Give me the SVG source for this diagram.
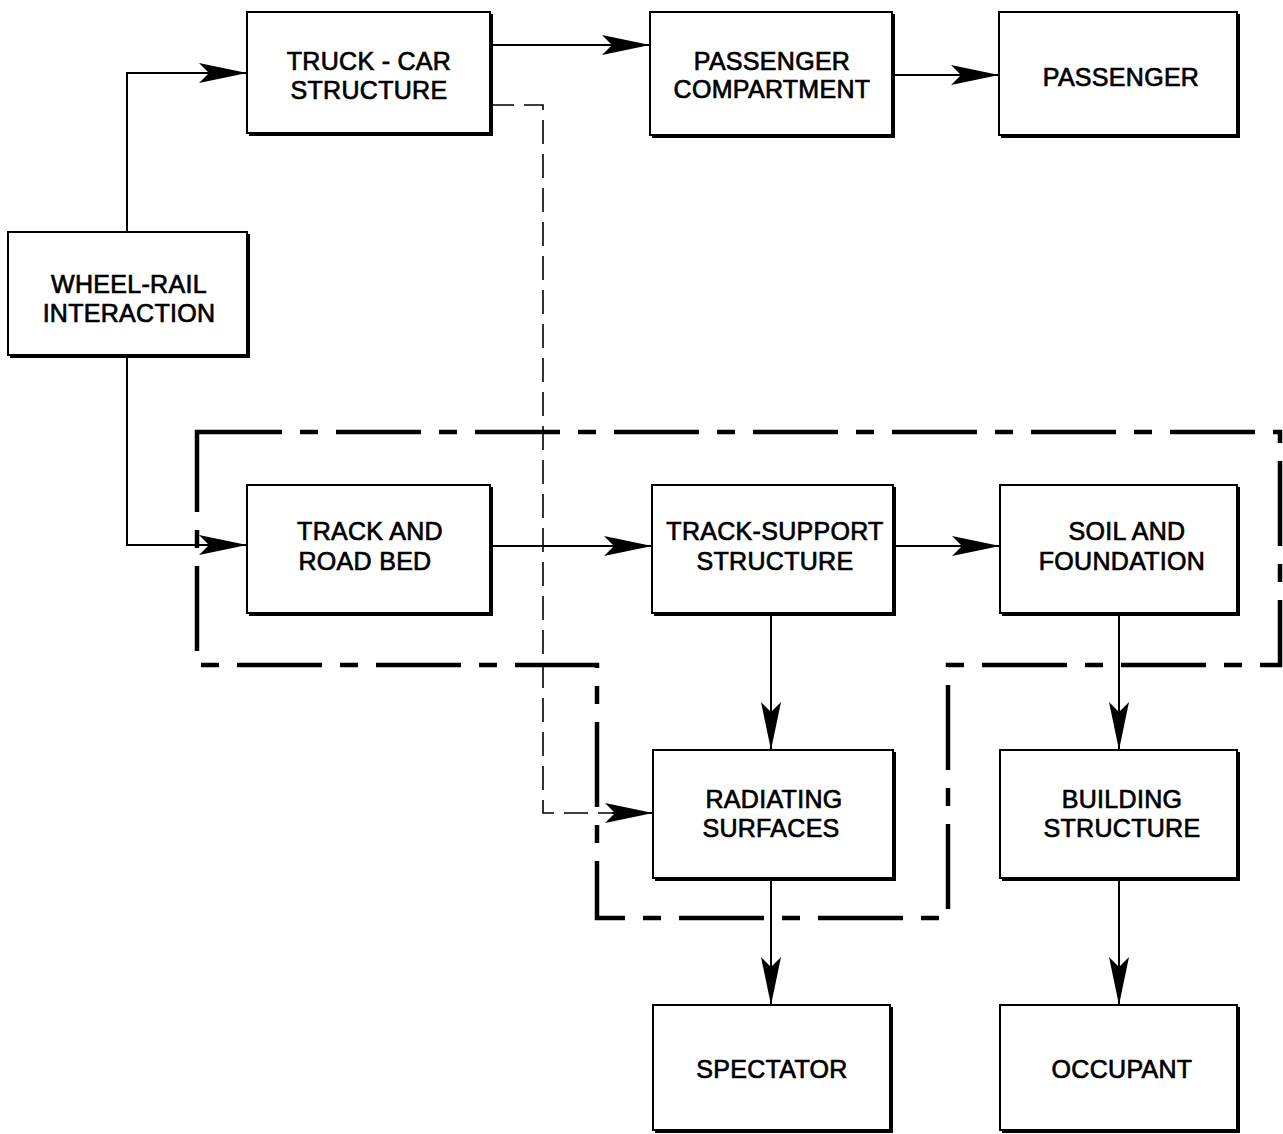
<svg xmlns="http://www.w3.org/2000/svg" width="1283" height="1134" viewBox="0 0 1283 1134">
<style>
.box{fill:#fff;stroke:#000;stroke-width:2}
.sh{fill:none;stroke:#000;stroke-width:4}
.lbl{font-family:"Liberation Sans",Arial,sans-serif;font-size:25px;letter-spacing:0.3px;text-anchor:middle;fill:#000;stroke:#000;stroke-width:0.7}
.c{fill:none;stroke:#000;stroke-width:2}
.d{fill:none;stroke:#000;stroke-width:1.6;stroke-dasharray:24 10}
.b{fill:none;stroke:#000;stroke-width:4.5;stroke-dasharray:85 18 18 18;stroke-linejoin:miter}
</style>
<defs>
<marker id="ah" markerUnits="userSpaceOnUse" viewBox="-50 -12 52 24" refX="0" refY="0" markerWidth="52" markerHeight="24" orient="auto">
<path d="M0,0 L-48,-10 L-38,0 L-48,10 Z" fill="#000"/>
</marker>
</defs>
<rect width="1283" height="1134" fill="#fff"/>
<g id="boundary">
<path class="b" d="M197,432 H1280 V665 H948 V918 H597 V665 H197 Z"/>
</g>
<g id="connectors">
<path class="c" d="M127,232 V73 H247" marker-end="url(#ah)"/>
<path class="c" d="M127,355 V545 H247" marker-end="url(#ah)"/>
<path class="c" d="M490,45 H650" marker-end="url(#ah)"/>
<path class="c" d="M892,75 H999" marker-end="url(#ah)"/>
<path class="c" d="M490,546 H652" marker-end="url(#ah)"/>
<path class="c" d="M893,546 H1000" marker-end="url(#ah)"/>
<path class="c" d="M771,613 V750" marker-end="url(#ah)"/>
<path class="c" d="M1119,613 V750" marker-end="url(#ah)"/>
<path class="c" d="M771,878 V1005" marker-end="url(#ah)"/>
<path class="c" d="M1119,878 V1005" marker-end="url(#ah)"/>
<path class="d" d="M490,105 H543 V813 H612"/>
<path class="c" d="M612,813 H653" marker-end="url(#ah)"/>
</g>
<g id="truck-car">
<rect class="box" x="247" y="12" width="243" height="121"/>
<path class="sh" d="M491,14 V134 H249"/>
<text class="lbl" x="369" y="70">TRUCK - CAR</text>
<text class="lbl" x="369" y="99">STRUCTURE</text>
</g>
<g id="passenger-compartment">
<rect class="box" x="650" y="12" width="242" height="123"/>
<path class="sh" d="M893,14 V136 H652"/>
<text class="lbl" x="772" y="70">PASSENGER</text>
<text class="lbl" x="772" y="98">COMPARTMENT</text>
</g>
<g id="passenger">
<rect class="box" x="999" y="12" width="238" height="123"/>
<path class="sh" d="M1238,14 V136 H1001"/>
<text class="lbl" x="1121" y="86">PASSENGER</text>
</g>
<g id="wheel-rail">
<rect class="box" x="8" y="232" width="239" height="123"/>
<path class="sh" d="M248,234 V356 H10"/>
<text class="lbl" x="129" y="293">WHEEL-RAIL</text>
<text class="lbl" x="129" y="322">INTERACTION</text>
</g>
<g id="track-road-bed">
<rect class="box" x="247" y="485" width="243" height="128"/>
<path class="sh" d="M491,487 V614 H249"/>
<text class="lbl" x="370" y="540">TRACK  AND</text>
<text class="lbl" x="365" y="570">ROAD BED</text>
</g>
<g id="track-support">
<rect class="box" x="652" y="485" width="241" height="128"/>
<path class="sh" d="M894,487 V614 H654"/>
<text class="lbl" x="775" y="540">TRACK-SUPPORT</text>
<text class="lbl" x="775" y="570">STRUCTURE</text>
</g>
<g id="soil-foundation">
<rect class="box" x="1000" y="485" width="237" height="128"/>
<path class="sh" d="M1238,487 V614 H1002"/>
<text class="lbl" x="1127" y="540">SOIL  AND</text>
<text class="lbl" x="1122" y="570">FOUNDATION</text>
</g>
<g id="radiating-surfaces">
<rect class="box" x="653" y="750" width="240" height="128"/>
<path class="sh" d="M894,752 V879 H655"/>
<text class="lbl" x="774" y="808">RADIATING</text>
<text class="lbl" x="771" y="837">SURFACES</text>
</g>
<g id="building-structure">
<rect class="box" x="1000" y="750" width="237" height="128"/>
<path class="sh" d="M1238,752 V879 H1002"/>
<text class="lbl" x="1122" y="808">BUILDING</text>
<text class="lbl" x="1122" y="837">STRUCTURE</text>
</g>
<g id="spectator">
<rect class="box" x="653" y="1005" width="237" height="125"/>
<path class="sh" d="M891,1007 V1131 H655"/>
<text class="lbl" x="772" y="1078">SPECTATOR</text>
</g>
<g id="occupant">
<rect class="box" x="1000" y="1005" width="237" height="125"/>
<path class="sh" d="M1238,1007 V1131 H1002"/>
<text class="lbl" x="1122" y="1078">OCCUPANT</text>
</g>
</svg>
